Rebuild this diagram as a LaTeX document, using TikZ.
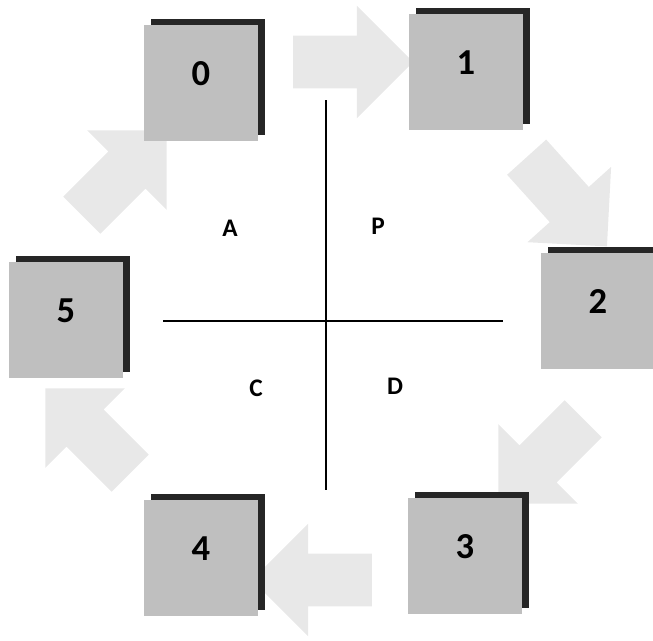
\documentclass[tikz,border=0pt]{standalone}
\usepackage{fontspec}
\setmainfont{Carlito}
\usepackage{tikz}
\usetikzlibrary{shapes.arrows, shadows}

\begin{document}
\begin{tikzpicture}[
  x=0.025cm, y=-0.025cm,
  every node/.style={align=center},
  stage/.style={rectangle, fill=gray!50, minimum width=2.85cm, minimum height=2.9cm,
    text depth=0.45cm,
    general shadow={fill=black!85, shadow xshift=0.18cm, shadow yshift=0.14cm},
    font=\bfseries\fontsize{26}{30}\selectfont},
  flow/.style={single arrow, fill=gray!18, minimum height=3cm, minimum width=2.8cm,
    single arrow head extend=0.75cm, inner xsep=0pt, inner ysep=0.65cm},
  quad/.style={font=\bfseries\fontsize{18}{21}\selectfont}
]
  \useasboundingbox (0,0) rectangle (653,640);

  % arrows between the stages
  \node[flow] (f01) at (340,62) {};
  \node[flow, rotate=-48] (f12) at (558,192) {};
  \node[flow, rotate=-135] (f23) at (550,452) {};
  \node[flow, rotate=180] (f34) at (325,580) {};
  \node[flow, rotate=135] (f45) at (97,440) {};
  \node[flow, rotate=45] (f50) at (115,182) {};

  % stages
  \node[stage] (s0) at (201,83) {0};
  \node[stage] (s1) at (466,72) {1};
  \node[stage] (s2) at (598,311) {2};
  \node[stage] (s3) at (465,556) {3};
  \node[stage] (s4) at (201,558) {4};
  \node[stage] (s5) at (66,320) {5};

  % axes
  \coordinate (top) at (326,100);
  \coordinate (bottom) at (326,490);
  \coordinate (left) at (163,321);
  \coordinate (right) at (503,321);
  \draw[line width=1pt] (top) -- (bottom);
  \draw[line width=1pt] (left) -- (right);

  \node[quad] (qa) at (230,228) {A};
  \node[quad] (qp) at (378,226) {P};
  \node[quad] (qc) at (256,388) {C};
  \node[quad] (qd) at (395,386) {D};
\end{tikzpicture}
\end{document}
